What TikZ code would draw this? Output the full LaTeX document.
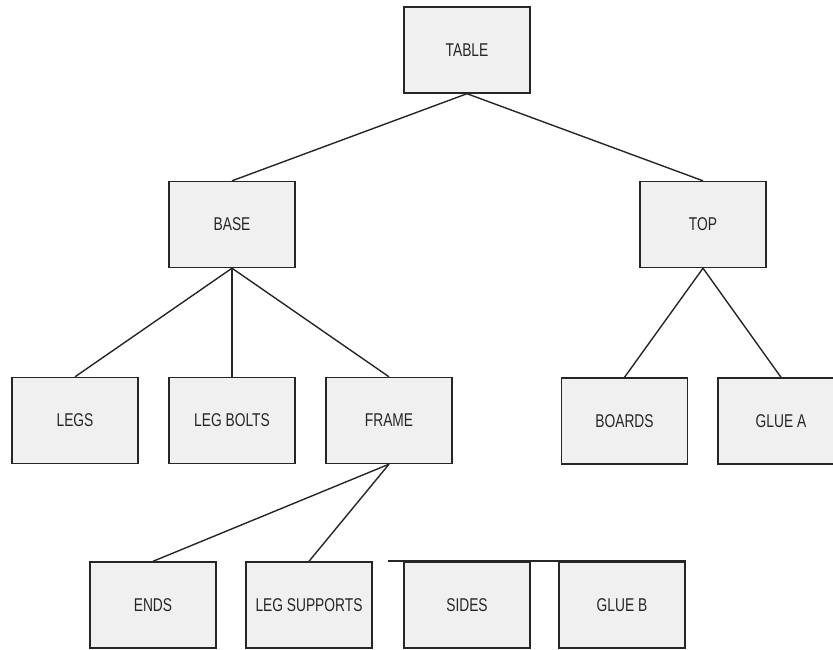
\documentclass[tikz,border=0pt]{standalone}
\usepackage{fontspec}
\setmainfont{Liberation Sans}[FakeStretch=0.745]
\begin{document}
\begin{tikzpicture}[x=1pt,y=-1pt,
  box/.style={draw=black!85,line width=1.4pt,fill=black!6,minimum width=126pt,minimum height=86pt,inner sep=0pt,font=\fontsize{18.5}{20}\selectfont,text=black!85},
  link/.style={draw=black!85,line width=1.4pt}]
\clip (0,0) rectangle (833,649);
\node[box] (table) at (467,50) {TABLE};
\node[box] (base) at (232,224.5) {BASE};
\node[box] (top) at (703,224.5) {TOP};
\node[box] (legs) at (75,420.5) {LEGS};
\node[box] (legbolts) at (232,420.5) {LEG BOLTS};
\node[box] (frame) at (389,420.5) {FRAME};
\node[box] (boards) at (624.5,421) {BOARDS};
\node[box] (gluea) at (781,421) {GLUE A};
\node[box] (ends) at (153,605) {ENDS};
\node[box] (legsup) at (309,605) {LEG SUPPORTS};
\node[box] (sides) at (467,605) {SIDES};
\node[box] (glueb) at (622,605) {GLUE B};
\coordinate (stub) at (388,561);
\draw[link] (table.south) -- (base.north);
\draw[link] (table.south) -- (top.north);
\draw[link] (base.south) -- (legs.north);
\draw[link] (base.south) -- (legbolts.north);
\draw[link] (base.south) -- (frame.north);
\draw[link] (top.south) -- (boards.north);
\draw[link] (top.south) -- (gluea.north);
\draw[link] (frame.south) -- (ends.north);
\draw[link] (frame.south) -- (legsup.north);
\draw[link] (stub) -- (stub -| glueb.north east);
\end{tikzpicture}
\end{document}
